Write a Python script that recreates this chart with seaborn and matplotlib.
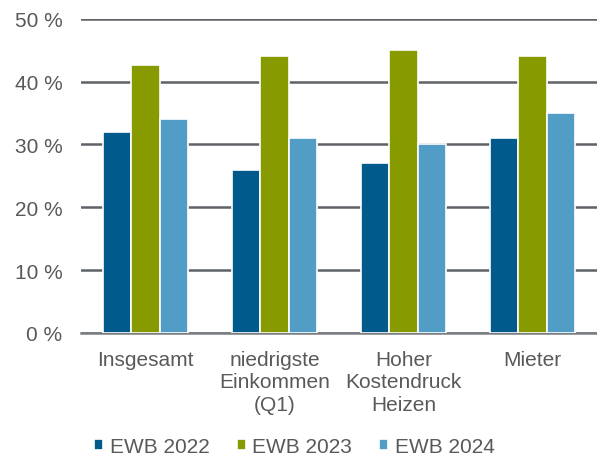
import pandas as pd
import matplotlib.pyplot as plt
import seaborn as sns

kategorien = ['Insgesamt', 'niedrigste\nEinkommen\n(Q1)', 'Hoher\nKostendruck\nHeizen', 'Mieter']
serien = ['EWB 2022', 'EWB 2023', 'EWB 2024']
ewb_2022 = [32, 26, 27, 31]
ewb_2023 = [42.6, 44, 45, 44]
ewb_2024 = [34, 31, 30, 35]
farben = ['#005b8c', '#879a00', '#529dc6']

dados = pd.DataFrame({
    'Kategorie': kategorien * 3,
    'Serie': [s for s in serien for _ in kategorien],
    'Wert': ewb_2022 + ewb_2023 + ewb_2024,
})

sns.set_style('white')
plt.rcParams['font.family'] = ['Liberation Sans', 'DejaVu Sans']

fig = plt.figure(figsize=(5.97, 4.60), dpi=100)
ax = fig.add_axes([0.136, 0.274, 0.864, 0.683])

sns.barplot(data=dados, x='Kategorie', y='Wert', hue='Serie',
            palette=farben, saturation=1, width=0.66, gap=0.0,
            edgecolor='white', linewidth=1.2, ax=ax, zorder=3)

ax.set_ylim(0, 50)
ax.set_yticks([0, 10, 20, 30, 40, 50])
ax.set_yticklabels([f'{v} %' for v in range(0, 60, 10)])
ax.yaxis.grid(True, color='#5f6367', linewidth=1.8, zorder=0)
ax.set_axisbelow(True)
for s in ['top', 'right', 'left']:
    ax.spines[s].set_visible(False)
ax.spines['bottom'].set_color('#7a7e82')
ax.spines['bottom'].set_linewidth(1.8)
ax.set_xlabel('')
ax.set_ylabel('')
ax.tick_params(axis='both', length=0, labelsize=15, labelcolor='#595959')
ax.tick_params(axis='y', pad=13.5)
ax.tick_params(axis='x', pad=12)
for t in ax.get_xticklabels():
    t.set_linespacing(1.25)
ax.set_xlim(-0.5, 3.5)

hand, lab = ax.get_legend_handles_labels()
ax.get_legend().remove()
fig.legend(hand, lab, loc='center', bbox_to_anchor=(0.493, 0.028),
           ncol=3, frameon=False, fontsize=15, handlelength=0.45, handleheight=0.45,
           handletextpad=0.3, columnspacing=1.3, labelcolor='#595959')

fig.savefig('out.png', dpi=100)
